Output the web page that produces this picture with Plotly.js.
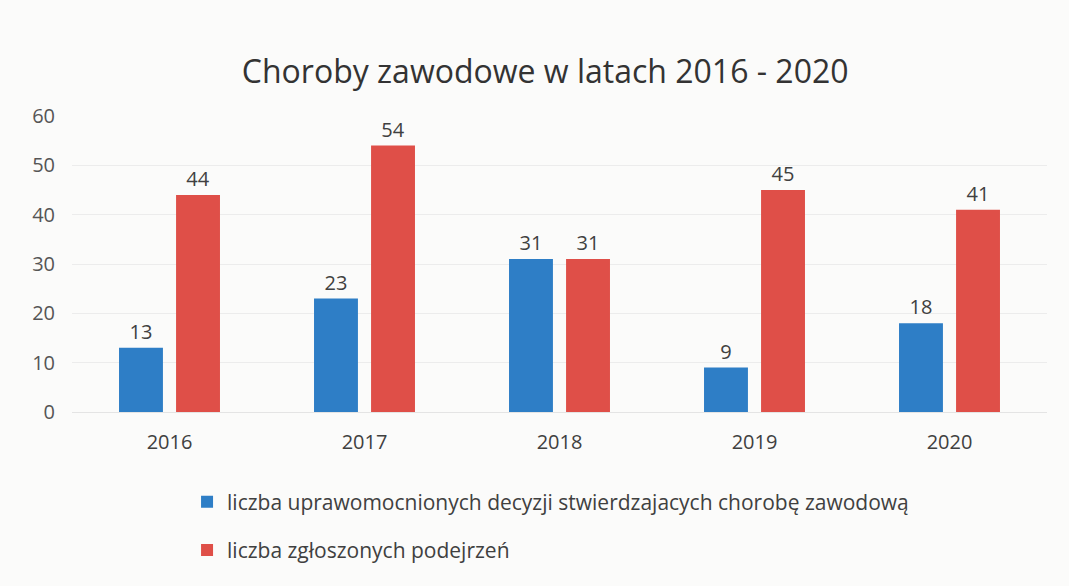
<!DOCTYPE html>
<html>
<head>
<meta charset="utf-8">
<script src="https://cdn.plot.ly/plotly-3.0.1.min.js"></script>
<style>html,body{margin:0;padding:0;background:#fbfbfa;}#chart{width:1069px;height:586px;}</style>
</head>
<body>
<div id="chart"></div>
<script>
const years = ['2016', '2017', '2018', '2019', '2020'];
const decisions = [13, 23, 31, 9, 18];
const reports = [44, 54, 31, 45, 41];
const seriesNames = ['liczba uprawomocnionych decyzji stwierdzajacych chorobę zawodową', 'liczba zgłoszonych podejrzeń'];
const yTicks = [0, 10, 20, 30, 40, 50, 60];

const font = 'Open Sans, sans-serif';
const textCol = '#404040';

const traces = [
  {type: 'bar', x: years, y: decisions, name: seriesNames[0], legendgroup: 'a',
   marker: {color: '#2e7ec6'}, text: decisions.map(String),
   textposition: 'outside', textfont: {family: font, size: 20, color: textCol}, cliponaxis: false},
  {type: 'bar', x: years, y: reports, name: seriesNames[1], legendgroup: 'b',
   marker: {color: '#df4f48'}, text: reports.map(String),
   textposition: 'outside', textfont: {family: font, size: 20, color: textCol}, cliponaxis: false}
];

const layout = {
  width: 1069, height: 586,
  paper_bgcolor: '#fbfbfa', plot_bgcolor: '#fbfbfa',
  margin: {l: 72, r: 22, t: 116, b: 174},
  title: {text: 'Choroby zawodowe w latach 2016 - 2020', font: {family: font, size: 32, color: '#333333'},
          x: 0.51, xanchor: 'center', y: 0.878, yanchor: 'middle'},
  barmode: 'group', bargap: 0.415, bargroupgap: 0.23,
  xaxis: {type: 'category', tickfont: {family: font, size: 20, color: textCol}, showgrid: false,
          showline: true, linecolor: '#e4e4e4', ticks: '', ticklen: 0, ticklabelstandoff: 12},
  yaxis: {range: [0, 60], tickvals: yTicks, tickfont: {family: font, size: 20, color: '#555555'},
          showgrid: true, gridcolor: '#ececec', zeroline: false, ticks: '', ticklabelstandoff: 16, fixedrange: true},
  showlegend: true,
  legend: {orientation: 'v', x: 0.118, xanchor: 'left', y: -0.235, yanchor: 'top',
           font: {family: font, size: 21, color: textCol}, tracegroupgap: 18, bgcolor: 'rgba(0,0,0,0)',
           itemwidth: 30}
};

Plotly.newPlot('chart', traces, layout, {displayModeBar: false, staticPlot: true});
</script>
</body>
</html>
